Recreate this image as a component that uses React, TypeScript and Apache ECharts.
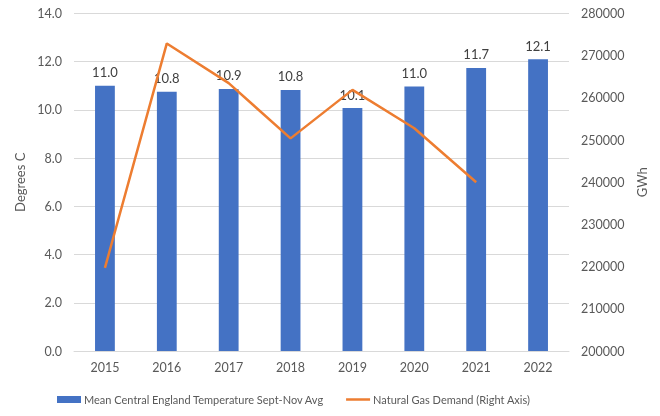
import React, { useEffect, useRef } from "react";
import * as echarts from "echarts";

const years = ["2015", "2016", "2017", "2018", "2019", "2020", "2021", "2022"];
const temperature = [11.0, 10.75, 10.87, 10.83, 10.08, 10.97, 11.74, 12.1];
const gasDemand = [219700, 272900, 263500, 250400, 261900, 252800, 240000, null];

const FONT = "Lato, 'Liberation Sans', sans-serif";
const GREY = "#595959";
const BAR_NAME = "Mean Central England Temperature Sept-Nov Avg";
const LINE_NAME = "Natural Gas Demand (Right Axis)";

export default function App() {
  const ref = useRef<HTMLDivElement>(null);
  useEffect(() => {
    const chart = echarts.init(ref.current!, null, { renderer: "svg" });
    chart.setOption({
      animation: false,
      textStyle: { fontFamily: FONT },
      grid: { left: 74, right: 91, top: 13.5, bottom: 65 },
      legend: {
        top: 389,
        left: 52,
        itemWidth: 24,
        itemHeight: 7,
        itemGap: 22,
        textStyle: { color: GREY, fontSize: 11, fontFamily: FONT, padding: [0, 0, 0, -2] },
        data: [
          { name: BAR_NAME, icon: "rect" },
          { name: LINE_NAME, icon: "path://M0,0 L24,0 L24,2.5 L0,2.5 Z" },
        ],
      },
      xAxis: {
        type: "category",
        data: years,
        axisTick: { show: false },
        axisLine: { lineStyle: { color: "#d9d9d9" } },
        axisLabel: { color: GREY, fontSize: 12.5, margin: 10 },
      },
      yAxis: [
        {
          type: "value",
          min: 0,
          max: 14,
          interval: 2,
          name: "Degrees C",
          nameLocation: "middle",
          nameGap: 46,
          nameTextStyle: { color: GREY, fontSize: 13 },
          axisLabel: { color: GREY, fontSize: 12.5, formatter: (v: number) => v.toFixed(1), margin: 12 },
          splitLine: { lineStyle: { color: "#d9d9d9" } },
        },
        {
          type: "value",
          min: 200000,
          max: 280000,
          interval: 10000,
          name: "GWh",
          nameLocation: "middle",
          nameGap: 60,
          nameTextStyle: { color: GREY, fontSize: 13 },
          axisLabel: { color: GREY, fontSize: 12.5, margin: 12, formatter: (v: number) => String(v) },
          splitLine: { show: false },
        },
      ],
      series: [
        {
          name: BAR_NAME,
          type: "bar",
          data: temperature,
          barWidth: "32%",
          itemStyle: { color: "#4472C4" },
          label: {
            show: true,
            position: "top",
            distance: 7,
            color: "#404040",
            fontSize: 13,
            formatter: (p: any) => p.value.toFixed(1),
          },
        },
        {
          name: LINE_NAME,
          type: "line",
          yAxisIndex: 1,
          data: gasDemand,
          symbol: "none",
          lineStyle: { color: "#ED7D31", width: 2.5 },
          itemStyle: { color: "#ED7D31" },
        },
      ],
    });
    return () => chart.dispose();
  }, []);
  return <div ref={ref} style={{ position: "fixed", left: 0, top: 0, width: 660, height: 416 }} />;
}
